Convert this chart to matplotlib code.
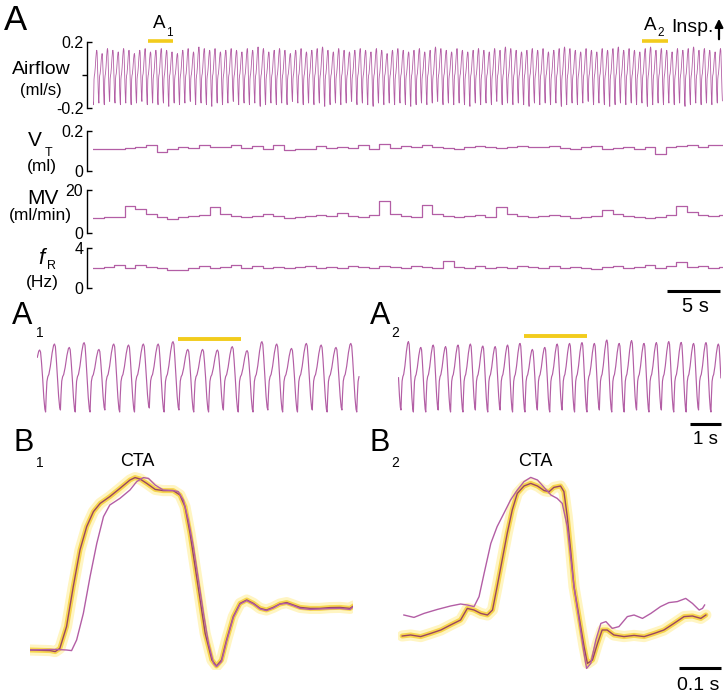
import numpy as np
import matplotlib
matplotlib.use("Agg")
import matplotlib.pyplot as plt

plt.rcParams["font.family"] = ["Liberation Sans", "DejaVu Sans"]

W, H = 728, 696
TRACE = "#b35ea5"
GOLD = "#f2cc1c"

SHAPE_PHASE = [0.00, 0.04, 0.09, 0.15, 0.22, 0.32, 0.44, 0.54, 0.60, 0.66, 0.72, 0.80, 0.88, 0.95]
SHAPE_VALUE = [-1.00, -0.55, -0.15, -0.02, 0.05, 0.30, 0.72, 0.96, 1.00, 0.92, 0.55, -0.05, -0.60, -0.92]

# panel A, airflow per-breath peaks / troughs (ml/s)
A_PEAKS = [
    0.14, 0.15, 0.13, 0.16, 0.15, 0.14, 0.16, 0.15, 0.13, 0.15,
    0.16, 0.14, 0.15, 0.16, 0.15, 0.14, 0.13, 0.15, 0.16, 0.14,
    0.17, 0.16, 0.15, 0.16, 0.14, 0.15, 0.16, 0.15, 0.14, 0.16,
    0.15, 0.17, 0.16, 0.14, 0.15, 0.16, 0.15, 0.13, 0.15, 0.16,
    0.14, 0.15, 0.16, 0.17, 0.15, 0.14, 0.16, 0.15, 0.14, 0.15,
    0.16, 0.15, 0.14, 0.16, 0.15, 0.13, 0.15, 0.16, 0.15, 0.14,
    0.15, 0.16, 0.14, 0.15, 0.17, 0.16, 0.15, 0.14, 0.16, 0.15,
    0.14, 0.15, 0.16, 0.15, 0.14, 0.16, 0.15, 0.17, 0.16, 0.15,
    0.14, 0.15, 0.16, 0.15, 0.16, 0.14, 0.15, 0.16, 0.17, 0.16,
    0.15, 0.14, 0.16, 0.15, 0.14, 0.16, 0.15, 0.16, 0.17, 0.15,
    0.16, 0.15, 0.14, 0.16, 0.17, 0.15, 0.16, 0.15, 0.14, 0.16,
    0.15, 0.16, 0.17, 0.15, 0.16, 0.15, 0.14, 0.16]
A_TROUGHS = [
    -0.17, -0.18, -0.17, -0.18, -0.16, -0.17, -0.18, -0.17, -0.18, -0.17,
    -0.16, -0.18, -0.17, -0.18, -0.17, -0.19, -0.17, -0.18, -0.17, -0.16,
    -0.18, -0.17, -0.18, -0.19, -0.17, -0.18, -0.17, -0.16, -0.18, -0.17,
    -0.18, -0.17, -0.19, -0.18, -0.17, -0.18, -0.17, -0.18, -0.16, -0.17,
    -0.18, -0.17, -0.18, -0.17, -0.19, -0.18, -0.17, -0.18, -0.17, -0.16,
    -0.18, -0.17, -0.18, -0.19, -0.17, -0.18, -0.17, -0.18, -0.17, -0.18,
    -0.19, -0.18, -0.17, -0.18, -0.17, -0.16, -0.18, -0.17, -0.18, -0.17,
    -0.18, -0.19, -0.17, -0.18, -0.17, -0.18, -0.16, -0.18, -0.17, -0.18,
    -0.17, -0.18, -0.19, -0.17, -0.18, -0.17, -0.18, -0.17, -0.19, -0.18,
    -0.17, -0.18, -0.17, -0.16, -0.18, -0.17, -0.18, -0.19, -0.18, -0.17,
    -0.18, -0.17, -0.18, -0.17, -0.19, -0.18, -0.17, -0.18, -0.17, -0.18,
    -0.17, -0.19, -0.18, -0.17, -0.18, -0.17, -0.18, -0.17]
A_PERIOD = 0.507
A_T_END = 59.4

# 1-s bins: tidal volume (ml), minute ventilation (ml/min), frequency (Hz)
VT = [0.110, 0.110, 0.112, 0.115, 0.120, 0.130, 0.095, 0.110, 0.120, 0.115,
      0.128, 0.118, 0.120, 0.130, 0.115, 0.125, 0.110, 0.128, 0.105, 0.110,
      0.112, 0.125, 0.115, 0.122, 0.116, 0.130, 0.112, 0.135, 0.115, 0.125,
      0.120, 0.132, 0.120, 0.115, 0.110, 0.120, 0.125, 0.118, 0.115, 0.120,
      0.125, 0.118, 0.120, 0.125, 0.115, 0.110, 0.120, 0.125, 0.110, 0.115,
      0.120, 0.112, 0.118, 0.085, 0.120, 0.125, 0.130, 0.122, 0.130, 0.130]
MV = [7.2, 7.4, 7.5, 12.5, 11.0, 9.0, 7.5, 6.5, 7.5, 8.0,
      8.5, 12.0, 9.0, 8.0, 7.5, 8.0, 9.0, 8.0, 7.0, 7.5,
      8.0, 8.5, 8.0, 9.5, 8.0, 7.5, 8.5, 15.0, 9.0, 8.0,
      7.5, 13.0, 9.0, 8.0, 7.5, 8.0, 8.5, 7.5, 12.0, 9.0,
      8.0, 7.5, 8.0, 8.5, 8.0, 7.0, 7.5, 8.0, 10.5, 9.0,
      8.0, 7.5, 7.0, 7.5, 8.5, 12.5, 10.0, 8.5, 8.0, 8.5]
FR = [2.0, 2.1, 2.3, 2.0, 2.3, 2.1, 2.0, 1.8, 1.8, 2.0,
      2.2, 2.0, 2.1, 2.3, 2.0, 2.2, 2.0, 2.1, 2.0, 2.1,
      2.2, 2.0, 2.1, 2.0, 2.2, 2.1, 2.0, 2.2, 2.1, 2.0,
      2.2, 2.1, 2.0, 2.7, 2.1, 2.0, 2.2, 2.0, 2.1, 2.0,
      2.2, 2.1, 2.0, 2.2, 2.0, 2.1, 2.0, 1.9, 2.1, 2.2,
      2.0, 2.1, 2.3, 2.0, 2.2, 2.6, 2.1, 2.2, 2.0, 2.1]

# expanded segments A1 / A2
A1_PEAKS = [0.130, 0.160, 0.143, 0.167, 0.133, 0.160, 0.155, 0.160, 0.160, 0.172,
            0.133, 0.133, 0.130, 0.147, 0.127, 0.172, 0.160, 0.138, 0.163, 0.155,
            0.143, 0.163, 0.150]
A1_TROUGHS = [-0.18, -0.18, -0.17, -0.18, -0.18, -0.17, -0.18, -0.18, -0.16, -0.18,
              -0.17, -0.18, -0.18, -0.17, -0.18, -0.18, -0.17, -0.18, -0.18, -0.17,
              -0.18, -0.17, -0.18]
A1_PERIOD = 0.478
A2_PEAKS = [0.163, 0.172, 0.143, 0.155, 0.147, 0.155, 0.160, 0.150, 0.147, 0.155,
            0.163, 0.133, 0.143, 0.160, 0.163, 0.167, 0.163, 0.180, 0.163, 0.177,
            0.163, 0.167, 0.172, 0.168, 0.163, 0.167, 0.160]
A2_TROUGHS = [-0.18, -0.17, -0.18, -0.18, -0.17, -0.18, -0.18, -0.17, -0.18, -0.17,
              -0.18, -0.18, -0.17, -0.18, -0.17, -0.18, -0.18, -0.17, -0.18, -0.18,
              -0.17, -0.18, -0.17, -0.18, -0.18, -0.17, -0.18]
A2_PERIOD = 0.40
SEG_T_END = 10.42

# B: cycle-triggered averages (time s, normalised airflow)
B1_T1 = [0.000, 0.048, 0.060, 0.071, 0.087, 0.103, 0.119, 0.135, 0.151, 0.167, 0.190, 0.214,
         0.238, 0.250, 0.262, 0.278, 0.298, 0.317, 0.341, 0.357, 0.369, 0.381, 0.393, 0.405,
         0.417, 0.433, 0.444, 0.456, 0.468, 0.484, 0.500, 0.516, 0.532, 0.548, 0.563, 0.579,
         0.595, 0.611, 0.627, 0.643, 0.667, 0.690, 0.714, 0.738, 0.762, 0.770]
B1_V1 = [0.100, 0.097, 0.092, 0.108, 0.217, 0.417, 0.600, 0.717, 0.792, 0.833, 0.867, 0.908,
         0.950, 0.962, 0.955, 0.933, 0.903, 0.897, 0.897, 0.875, 0.817, 0.683, 0.517, 0.350,
         0.183, 0.050, 0.020, 0.050, 0.150, 0.267, 0.333, 0.350, 0.333, 0.308, 0.300, 0.313,
         0.330, 0.337, 0.325, 0.313, 0.308, 0.308, 0.312, 0.313, 0.308, 0.320]
B1_T2 = [0.000, 0.060, 0.087, 0.099, 0.111, 0.127, 0.143, 0.159, 0.175, 0.190, 0.214, 0.238,
         0.254, 0.270, 0.282, 0.298, 0.317, 0.341, 0.353, 0.365, 0.377, 0.389, 0.401, 0.413,
         0.425, 0.437, 0.444, 0.456, 0.468, 0.484, 0.500, 0.516, 0.532, 0.548, 0.563, 0.579,
         0.595, 0.611, 0.627, 0.643, 0.667, 0.690, 0.714, 0.738, 0.762, 0.770]
B1_V2 = [0.100, 0.103, 0.100, 0.097, 0.150, 0.283, 0.467, 0.633, 0.767, 0.825, 0.858, 0.900,
         0.942, 0.962, 0.958, 0.925, 0.900, 0.897, 0.892, 0.850, 0.750, 0.617, 0.450, 0.283,
         0.133, 0.033, 0.017, 0.042, 0.142, 0.263, 0.330, 0.347, 0.330, 0.305, 0.297, 0.310,
         0.330, 0.333, 0.322, 0.308, 0.303, 0.305, 0.307, 0.308, 0.303, 0.317]
B2_T1 = [0.010, 0.030, 0.054, 0.078, 0.102, 0.125, 0.149, 0.165, 0.181, 0.197, 0.213, 0.225,
         0.236, 0.248, 0.260, 0.272, 0.284, 0.300, 0.316, 0.332, 0.348, 0.360, 0.371, 0.387,
         0.395, 0.403, 0.411, 0.419, 0.431, 0.443, 0.451, 0.463, 0.475, 0.486, 0.498, 0.514,
         0.538, 0.562, 0.586, 0.610, 0.633, 0.657, 0.681, 0.701, 0.721, 0.733]
B2_V1 = [0.170, 0.175, 0.167, 0.183, 0.200, 0.225, 0.250, 0.308, 0.300, 0.283, 0.275, 0.300,
         0.417, 0.550, 0.683, 0.800, 0.883, 0.920, 0.933, 0.920, 0.897, 0.892, 0.913, 0.920,
         0.892, 0.767, 0.600, 0.417, 0.267, 0.117, 0.033, 0.050, 0.133, 0.200, 0.200, 0.175,
         0.167, 0.173, 0.167, 0.183, 0.200, 0.233, 0.267, 0.270, 0.258, 0.275]
B2_T2 = [0.014, 0.038, 0.062, 0.094, 0.125, 0.149, 0.165, 0.181, 0.193, 0.205, 0.221, 0.236,
         0.252, 0.268, 0.284, 0.300, 0.316, 0.332, 0.348, 0.364, 0.379, 0.391, 0.403, 0.411,
         0.419, 0.431, 0.443, 0.449, 0.459, 0.471, 0.483, 0.495, 0.510, 0.526, 0.546, 0.562,
         0.582, 0.602, 0.625, 0.645, 0.665, 0.685, 0.701, 0.717, 0.725, 0.730]
B2_V2 = [0.275, 0.263, 0.283, 0.303, 0.320, 0.330, 0.325, 0.317, 0.367, 0.483, 0.633, 0.717,
         0.783, 0.850, 0.900, 0.942, 0.963, 0.950, 0.913, 0.875, 0.858, 0.833, 0.717, 0.567,
         0.417, 0.250, 0.083, 0.008, 0.033, 0.150, 0.233, 0.242, 0.208, 0.217, 0.267, 0.275,
         0.258, 0.283, 0.317, 0.337, 0.342, 0.358, 0.333, 0.300, 0.308, 0.325]
B_T_END = 0.769


def rect(x0, y0, x1, y1):
    return [x0 / W, 1 - y1 / H, (x1 - x0) / W, (y1 - y0) / H]


def ftext(x, y, s, **kw):
    kw.setdefault("ha", "center")
    kw.setdefault("va", "center")
    fig.text(x / W, 1 - y / H, s, **kw)


def build_airflow(peaks, troughs, period, start_phase, t_end):
    pk_ph = SHAPE_PHASE[int(np.argmax(SHAPE_VALUE))]
    n = len(peaks)
    ts, ys = [], []
    for k in range(n):
        for ph, v in zip(SHAPE_PHASE, SHAPE_VALUE):
            if v >= 0:
                y = v * peaks[k]
            elif ph < pk_ph:
                y = -v * troughs[k]
            else:
                y = -v * troughs[min(k + 1, n - 1)]
            ts.append((k + ph - start_phase) * period)
            ys.append(y)
    ts, ys = np.array(ts), np.array(ys)
    keep = (ts >= 0) & (ts <= t_end)
    return ts[keep], ys[keep]


def bracket_axis(ax, lo, hi, labels):
    for s in ("top", "right", "bottom"):
        ax.spines[s].set_visible(False)
    ax.spines["left"].set_position(("outward", 4.5))
    ax.spines["left"].set_linewidth(1.0)
    ax.set_ylim(lo, hi)
    ax.set_xlim(0, A_T_END)
    ax.set_xticks([])
    ax.set_yticks([lo, hi])
    ax.set_yticklabels(labels)
    ax.tick_params(axis="y", direction="in", length=3.5, width=1.0, pad=2.5, labelsize=11.5)
    for lab in ax.get_yticklabels():
        lab.set_va("center_baseline")
    ax.patch.set_visible(False)


fig = plt.figure(figsize=(W / 100, H / 100), dpi=100)

# ---------------- panel A ----------------
ax_air = fig.add_axes(rect(93, 42, 723, 108))
t, y = build_airflow(A_PEAKS, A_TROUGHS, A_PERIOD, 0.9, A_T_END)
ax_air.plot(t, y, color=TRACE, lw=0.6)
bracket_axis(ax_air, -0.2, 0.2, ["-0.2", "0.2"])
ax_air.set_yticks([0], minor=True)
ax_air.tick_params(axis="y", which="minor", direction="out", length=3.5, width=1.0)

ax_vt = fig.add_axes(rect(93, 131, 723, 171))
ax_vt.step(np.arange(len(VT) + 1), VT + VT[-1:], where="post", color=TRACE, lw=0.9)
bracket_axis(ax_vt, 0, 0.2, ["0", "0.2"])

ax_mv = fig.add_axes(rect(93, 190, 723, 233))
ax_mv.step(np.arange(len(MV) + 1), MV + MV[-1:], where="post", color=TRACE, lw=0.9)
bracket_axis(ax_mv, 0, 20, ["0", "20"])

ax_fr = fig.add_axes(rect(93, 248, 723, 288))
ax_fr.step(np.arange(len(FR) + 1), FR + FR[-1:], where="post", color=TRACE, lw=0.9)
bracket_axis(ax_fr, 0, 4, ["0", "4"])

# segment markers and scale bar in panel A
ax_air.plot([5.2, 7.5], [0.207, 0.207], color=GOLD, lw=2.6, clip_on=False, solid_capstyle="butt")
ax_air.plot([51.8, 54.2], [0.207, 0.207], color=GOLD, lw=2.6, clip_on=False, solid_capstyle="butt")
ax_fr.plot([54.1, 59.1], [-0.35, -0.35], color="black", lw=2.2, clip_on=False, solid_capstyle="butt")
ftext(695, 306, "5 s", fontsize=14.5)

ftext(16, 20, "A", fontsize=25)
ftext(159, 24, "A", fontsize=13.5)
ftext(169.5, 33, "1", fontsize=8.5)
ftext(650, 25, "A", fontsize=13.5)
ftext(661, 33, "2", fontsize=8.5)
ftext(692, 27, "Insp.", fontsize=14)
fig.patches.append(matplotlib.patches.FancyArrowPatch(
    (719 / W, 1 - 42 / H), (719 / W, 1 - 16 / H), transform=fig.transFigure,
    arrowstyle="-|>", mutation_scale=12, lw=1.6, color="black"))

ftext(41, 69, "Airflow", fontsize=14)
ftext(41, 91, "(ml/s)", fontsize=12)
ftext(35, 141, "V", fontsize=15)
ftext(49, 153, "T", fontsize=9)
ftext(42, 167, "(ml)", fontsize=12.5)
ftext(43, 198, "MV", fontsize=15)
ftext(40, 216, "(ml/min)", fontsize=12.5)
ftext(41, 258, "f", fontsize=16, style="italic")
ftext(52, 266, "R", fontsize=9)
ftext(42, 282, "(Hz)", fontsize=12.5)

# ---------------- panels A1 / A2 ----------------
ax_a1 = fig.add_axes(rect(37, 336, 360, 416))
t, y = build_airflow(A1_PEAKS, A1_TROUGHS, A1_PERIOD, 0.42, SEG_T_END)
ax_a1.plot(t, y, color=TRACE, lw=0.85)
ax_a1.plot([4.55, 6.58], [0.185, 0.185], color=GOLD, lw=2.8, solid_capstyle="butt", clip_on=False)

ax_a2 = fig.add_axes(rect(398, 336, 721, 416))
t, y = build_airflow(A2_PEAKS, A2_TROUGHS, A2_PERIOD, 0.76, SEG_T_END)
ax_a2.plot(t, y, color=TRACE, lw=0.85)
ax_a2.plot([4.06, 6.10], [0.20, 0.20], color=GOLD, lw=2.8, solid_capstyle="butt", clip_on=False)
ax_a2.plot([9.42, 10.42], [-0.24, -0.24], color="black", lw=2.2, solid_capstyle="butt", clip_on=False)

for ax in (ax_a1, ax_a2):
    ax.set_xlim(0, SEG_T_END)
    ax.set_ylim(-0.2, 0.2)
    ax.axis("off")

ftext(705, 439, "1 s", fontsize=13.5)
ftext(22, 316, "A", fontsize=22)
ftext(40, 333, "1", fontsize=10)
ftext(380, 316, "A", fontsize=22)
ftext(395, 333, "2", fontsize=10)

# ---------------- panels B1 / B2 ----------------
ax_b1 = fig.add_axes(rect(30, 470, 353, 670))
ax_b2 = fig.add_axes(rect(398, 470, 721, 670))
for ax, (t1, v1, t2, v2) in ((ax_b1, (B1_T1, B1_V1, B1_T2, B1_V2)),
                             (ax_b2, (B2_T1, B2_V1, B2_T2, B2_V2))):
    ax.plot(t1, v1, color="#fff5c2", lw=8, solid_capstyle="round", solid_joinstyle="round")
    ax.plot(t1, v1, color="#f7d54e", lw=3.6, solid_capstyle="round", solid_joinstyle="round")
    ax.plot(t1, v1, color="#9a4660", lw=1.0)
    ax.plot(t2, v2, color=TRACE, lw=1.0)
    ax.set_xlim(0, B_T_END)
    ax.set_ylim(0, 1)
    ax.axis("off")

ax_b2.plot([0.669, 0.769], [0.01, 0.01], color="black", lw=2.2, solid_capstyle="butt", clip_on=False)
ftext(698, 685, "0.1 s", fontsize=14)

ftext(24, 443, "B", fontsize=22)
ftext(40, 463, "1", fontsize=10)
ftext(380, 443, "B", fontsize=22)
ftext(395, 463, "2", fontsize=10)
ftext(137, 461, "CTA", fontsize=13)
ftext(535, 461, "CTA", fontsize=13)

fig.savefig("out.png", dpi=100)
